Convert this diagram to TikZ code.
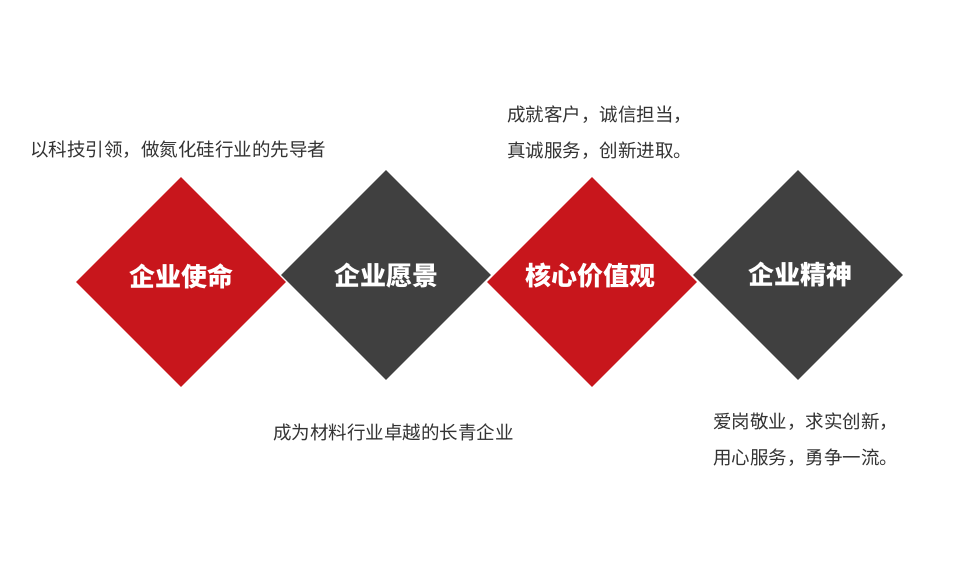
\documentclass[tikz,border=0pt]{standalone}
\usepackage{fontspec}
\newfontfamily\cjk{Noto Sans CJK SC}
\usetikzlibrary{shapes.geometric}
\definecolor{corpred}{RGB}{200,22,28}
\definecolor{corpgray}{RGB}{64,64,64}
\definecolor{captext}{RGB}{51,51,51}
\tikzset{
  dia/.style={diamond,aspect=1,minimum width=210pt,minimum height=210pt,inner sep=0pt},
  diatitle/.style={text=white,inner sep=0pt,font=\cjk\bfseries\fontsize{26}{26}\selectfont},
  captxt/.style={anchor=west,text=captext,align=left,inner sep=0pt,font=\cjk\fontsize{18.5}{36}\selectfont}
}
\begin{document}
\begin{tikzpicture}[x=1pt,y=-1pt]
\useasboundingbox[fill=white] (0,0) rectangle (960,585);
% diamonds
\node[dia,fill=corpred] (mission) at (181,282) {};
\node[dia,fill=corpgray] (vision) at (386,275) {};
\node[dia,fill=corpred] (values) at (592,282) {};
\node[dia,fill=corpgray] (spirit) at (798,275) {};
\node[diatitle] (missiont) at (181,276) {企业使命};
\node[diatitle] (visiont) at (386,276) {企业愿景};
\node[diatitle] (valuest) at (590,276) {核心价值观};
\node[diatitle] (spiritt) at (800,275) {企业精神};
% captions
\node[captxt] (missionc) at (30,150) {以科技引领，做氮化硅行业的先导者};
\node[captxt] (valuesc) at (507,133) {成就客户，诚信担当，\\真诚服务，创新进取。};
\node[captxt] (visionc) at (273,432) {成为材料行业卓越的长青企业};
\node[captxt] (spiritc) at (713,440) {爱岗敬业，求实创新，\\用心服务，勇争一流。};
\end{tikzpicture}
\end{document}
